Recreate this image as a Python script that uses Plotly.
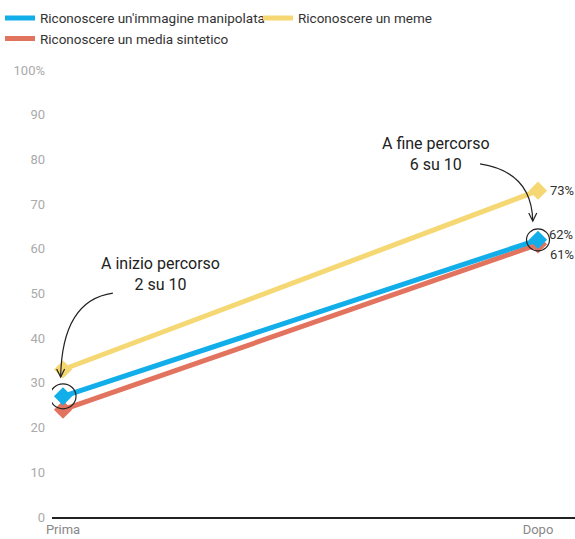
import plotly.graph_objects as go

categories = ["Prima", "Dopo"]
x_pos = [0, 1]
series_names = ["Riconoscere un'immagine manipolata", "Riconoscere un meme", "Riconoscere un media sintetico"]
blue_vals = [27, 62]
yellow_vals = [33, 73]
red_vals = [24, 61]
colors = ["#12AEEA", "#F5D873", "#E2735F"]
y_ticks = [0, 10, 20, 30, 40, 50, 60, 70, 80, 90, 100]
y_ticktext = ["0", "10", "20", "30", "40", "50", "60", "70", "80", "90", "100%"]

fig = go.Figure()
for name, vals, col, rank in [
    (series_names[1], yellow_vals, colors[1], 2),
    (series_names[2], red_vals, colors[2], 3),
    (series_names[0], blue_vals, colors[0], 1),
]:
    fig.add_trace(go.Scatter(
        x=x_pos, y=vals, name=name, mode="lines",
        line=dict(color=col, width=5),
        legendrank=rank, cliponaxis=False,
    ))
    fig.add_trace(go.Scatter(
        x=x_pos, y=vals, name=name, mode="markers", showlegend=False,
        marker=dict(symbol="diamond", size=14, color=col),
        cliponaxis=False, hoverinfo="skip",
    ))

# value labels at "Dopo"
lab_font = dict(size=13, color="#333")
fig.add_annotation(x=1, y=yellow_vals[1], text=f"{yellow_vals[1]}%", showarrow=False,
                   xanchor="left", xshift=10, font=lab_font)
fig.add_annotation(x=1, y=blue_vals[1], text=f"{blue_vals[1]}%", showarrow=False,
                   xanchor="left", xshift=9, yshift=5, font=lab_font)
fig.add_annotation(x=1, y=red_vals[1], text=f"{red_vals[1]}%", showarrow=False,
                   xanchor="left", xshift=10, yshift=-10, font=lab_font)

# circles around blue markers
fig.add_shape(type="circle", xref="x", yref="y", xsizemode="pixel", ysizemode="pixel",
              xanchor=0, yanchor=blue_vals[0], x0=-13, x1=13, y0=-12.5, y1=12.5,
              line=dict(color="#222", width=1.2))
fig.add_shape(type="circle", xref="x", yref="y", xsizemode="pixel", ysizemode="pixel",
              xanchor=1, yanchor=blue_vals[1], x0=-11.5, x1=11.5, y0=-11, y1=11,
              line=dict(color="#222", width=1.2))

# callout texts
call_font = dict(size=16, color="#222")
fig.add_annotation(x=0.205, y=54.3, text="A inizio percorso<br>2 su 10", showarrow=False,
                   font=call_font, align="center")
fig.add_annotation(x=0.785, y=81.3, text="A fine percorso<br>6 su 10", showarrow=False,
                   font=call_font, align="center")

# curved arrows
arrow_line = dict(color="#222", width=1.2)
fig.add_shape(type="path", xref="x", yref="y",
              path="M 0.105,50.1 Q -0.002,48.5 -0.005,31.3", line=arrow_line)
fig.add_shape(type="path", xref="x", yref="y", xsizemode="pixel", ysizemode="pixel",
              xanchor=-0.005, yanchor=31.3, path="M -4,8 L 0,0 L 4,8", line=arrow_line)
fig.add_shape(type="path", xref="x", yref="y",
              path="M 0.878,79.0 Q 0.987,77.2 0.989,66.2", line=arrow_line)
fig.add_shape(type="path", xref="x", yref="y", xsizemode="pixel", ysizemode="pixel",
              xanchor=0.989, yanchor=66.2, path="M -4,8 L 0,0 L 4,8", line=arrow_line)

fig.update_layout(
    width=575, height=539,
    margin=dict(l=52, r=0, t=70, b=22, autoexpand=False),
    plot_bgcolor="white", paper_bgcolor="white",
    font=dict(family="Roboto", size=13, color="#333"),
    showlegend=True,
    legend=dict(orientation="h", x=-0.0104, y=0.995, xref="container", yref="container",
                xanchor="left", yanchor="top", font=dict(size=13.5, color="#333"),
                entrywidth=213, entrywidthmode="pixels", tracegroupgap=0),
    xaxis=dict(range=[-0.0232, 1.0779], tickvals=x_pos, ticktext=categories,
               showgrid=False, zeroline=False, showline=True, linecolor="#222", linewidth=1.5,
               ticks="", tickfont=dict(size=13, color="#888")),
    yaxis=dict(range=[0, 100], tickvals=y_ticks, ticktext=y_ticktext,
               showgrid=False, zeroline=False, showline=False, ticks="",
               ticklabelstandoff=6, tickfont=dict(size=13, color="#aaa")),
)

fig.write_html("out.html")
